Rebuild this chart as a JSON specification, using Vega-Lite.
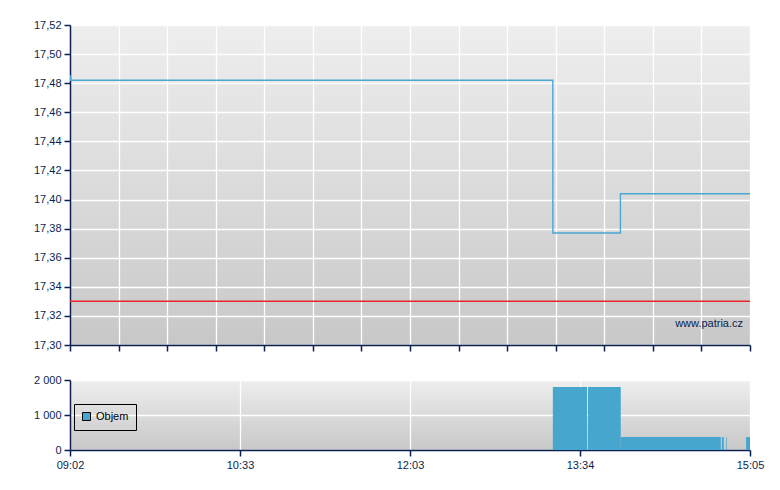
{
  "$schema": "https://vega.github.io/schema/vega-lite/v6.json",
  "background": "white",
  "padding": {"left": 33, "top": 19, "right": 5, "bottom": 5},
  "spacing": 22,
  "config": {
    "locale": {"number": {"decimal": ",", "thousands": " ", "grouping": [3], "currency": ["", ""]}},
    "font": "Liberation Sans",
    "view": {"stroke": null},
    "axis": {
      "labelFont": "Liberation Sans",
      "labelFontSize": 11,
      "labelColor": "#0b1f50",
      "domainColor": "#0b1f50",
      "tickColor": "#0b1f50",
      "domainWidth": 1.5,
      "tickWidth": 1.5,
      "tickSize": 6,
      "gridColor": "#ffffff",
      "gridWidth": 1.3,
      "gridOpacity": 1,
      "title": null,
      "labelPadding": 3,
      "labelOverlap": false
    },
    "axisY": {"labelOverlap": false},
    "axisQuantitative": {"labelOverlap": false},
    "legend": {
      "strokeColor": "#000000",
      "padding": 7,
      "labelFont": "Liberation Sans",
      "labelFontSize": 11,
      "labelColor": "#000000",
      "symbolType": "square",
      "symbolSize": 64,
      "symbolStrokeColor": "#000000",
      "symbolStrokeWidth": 1,
      "symbolOpacity": 1,
      "labelOffset": 4
    }
  },
  "vconcat": [
    {
      "width": 680,
      "height": 320,
      "view": {"stroke": null, "fill": {"gradient": "linear", "x1": 0, "y1": 0, "x2": 0, "y2": 1, "stops": [{"offset": 0, "color": "#eeeeee"}, {"offset": 1, "color": "#c8c8c8"}]}},
      "encoding": {
        "y": {"field": "price", "type": "quantitative",
          "scale": {"domain": [17.3, 17.52], "nice": false, "zero": false},
          "axis": {"format": ".2f", "grid": true, "labelOverlap": false, "labelFlush": false, "tickCount": 12,
            "values": [17.3, 17.32, 17.34, 17.36, 17.38, 17.4, 17.42, 17.44, 17.46, 17.48, 17.5, 17.52]}}
      },
      "layer": [
        {
          "data": {"values": [
            {"time": "2024-01-15T09:02:00", "price": 17.485},
            {"time": "2024-01-15T09:02:20", "price": 17.482},
            {"time": "2024-01-15T13:19:45", "price": 17.377},
            {"time": "2024-01-15T13:55:50", "price": 17.404},
            {"time": "2024-01-15T15:05:00", "price": 17.404}
          ]},
          "mark": {"type": "line", "interpolate": "step-after", "color": "#4aa8d2", "strokeWidth": 1.4, "clip": true},
          "encoding": {
            "x": {"field": "time", "type": "temporal",
              "scale": {"domain": [{"year": 2024, "month": 1, "date": 15, "hours": 9, "minutes": 2}, {"year": 2024, "month": 1, "date": 15, "hours": 15, "minutes": 5}], "nice": false},
              "axis": {"labels": false, "grid": true,
                "values": [
                  {"year": 2024, "month": 1, "date": 15, "hours": 9, "minutes": 2, "seconds": 0},
                  {"year": 2024, "month": 1, "date": 15, "hours": 9, "minutes": 27, "seconds": 56},
                  {"year": 2024, "month": 1, "date": 15, "hours": 9, "minutes": 53, "seconds": 51},
                  {"year": 2024, "month": 1, "date": 15, "hours": 10, "minutes": 19, "seconds": 47},
                  {"year": 2024, "month": 1, "date": 15, "hours": 10, "minutes": 45, "seconds": 43},
                  {"year": 2024, "month": 1, "date": 15, "hours": 11, "minutes": 11, "seconds": 39},
                  {"year": 2024, "month": 1, "date": 15, "hours": 11, "minutes": 37, "seconds": 34},
                  {"year": 2024, "month": 1, "date": 15, "hours": 12, "minutes": 3, "seconds": 30},
                  {"year": 2024, "month": 1, "date": 15, "hours": 12, "minutes": 29, "seconds": 26},
                  {"year": 2024, "month": 1, "date": 15, "hours": 12, "minutes": 55, "seconds": 21},
                  {"year": 2024, "month": 1, "date": 15, "hours": 13, "minutes": 21, "seconds": 17},
                  {"year": 2024, "month": 1, "date": 15, "hours": 13, "minutes": 47, "seconds": 13},
                  {"year": 2024, "month": 1, "date": 15, "hours": 14, "minutes": 13, "seconds": 9},
                  {"year": 2024, "month": 1, "date": 15, "hours": 14, "minutes": 39, "seconds": 4},
                  {"year": 2024, "month": 1, "date": 15, "hours": 15, "minutes": 5, "seconds": 0}
                ]}}
          }
        },
        {
          "data": {"values": [{"price": 17.33}]},
          "mark": {"type": "rule", "color": "#e8262b", "strokeWidth": 1.5},
          "encoding": {}
        },
        {
          "data": {"values": [{"time": "2024-01-15T15:01:17", "price": 17.3144, "label": "www.patria.cz"}]},
          "mark": {"type": "text", "align": "right", "baseline": "middle", "font": "Liberation Sans", "fontSize": 11, "color": "#0b1f50"},
          "encoding": {
            "x": {"field": "time", "type": "temporal"},
            "text": {"field": "label"}
          }
        }
      ]
    },
    {
      "width": 680,
      "height": 70,
      "view": {"stroke": null, "fill": {"gradient": "linear", "x1": 0, "y1": 0, "x2": 0, "y2": 1, "stops": [{"offset": 0, "color": "#eeeeee"}, {"offset": 1, "color": "#c8c8c8"}]}},
      "data": {"values": [
        {"start": "2024-01-15T13:19:45", "end": "2024-01-15T13:38:00", "volume": 1800, "series": "Objem"},
        {"start": "2024-01-15T13:38:32", "end": "2024-01-15T13:56:00", "volume": 1800, "series": "Objem"},
        {"start": "2024-01-15T13:56:00", "end": "2024-01-15T14:49:25", "volume": 370, "series": "Objem"},
        {"start": "2024-01-15T14:50:00", "end": "2024-01-15T14:51:00", "volume": 370, "series": "Objem"},
        {"start": "2024-01-15T14:52:20", "end": "2024-01-15T14:52:40", "volume": 370, "series": "Objem"},
        {"start": "2024-01-15T15:02:55", "end": "2024-01-15T15:05:00", "volume": 370, "series": "Objem"}
      ]},
      "mark": {"type": "rect"},
      "encoding": {
        "x": {"field": "start", "type": "temporal",
          "scale": {"domain": [{"year": 2024, "month": 1, "date": 15, "hours": 9, "minutes": 2}, {"year": 2024, "month": 1, "date": 15, "hours": 15, "minutes": 5}], "nice": false},
          "axis": {"grid": true, "labelExpr": "timeFormat(time(datum.value) + 29000, '%H:%M')", "labelFlush": false, "labelOverlap": false,
            "values": [
              {"year": 2024, "month": 1, "date": 15, "hours": 9, "minutes": 2, "seconds": 0},
              {"year": 2024, "month": 1, "date": 15, "hours": 10, "minutes": 32, "seconds": 45},
              {"year": 2024, "month": 1, "date": 15, "hours": 12, "minutes": 3, "seconds": 30},
              {"year": 2024, "month": 1, "date": 15, "hours": 13, "minutes": 34, "seconds": 15},
              {"year": 2024, "month": 1, "date": 15, "hours": 15, "minutes": 5, "seconds": 0}
            ]}},
        "x2": {"field": "end"},
        "y": {"field": "volume", "type": "quantitative",
          "scale": {"domain": [0, 2000], "nice": false},
          "axis": {"format": ",.0f", "grid": true, "labelOverlap": false, "labelFlush": false, "values": [0, 1000, 2000]}},
        "y2": {"datum": 0},
        "color": {"field": "series", "type": "nominal",
          "scale": {"range": ["#46a6ce"]},
          "legend": {"title": null, "orient": "none", "legendX": 4, "legendY": 379}}
      }
    }
  ]
}
